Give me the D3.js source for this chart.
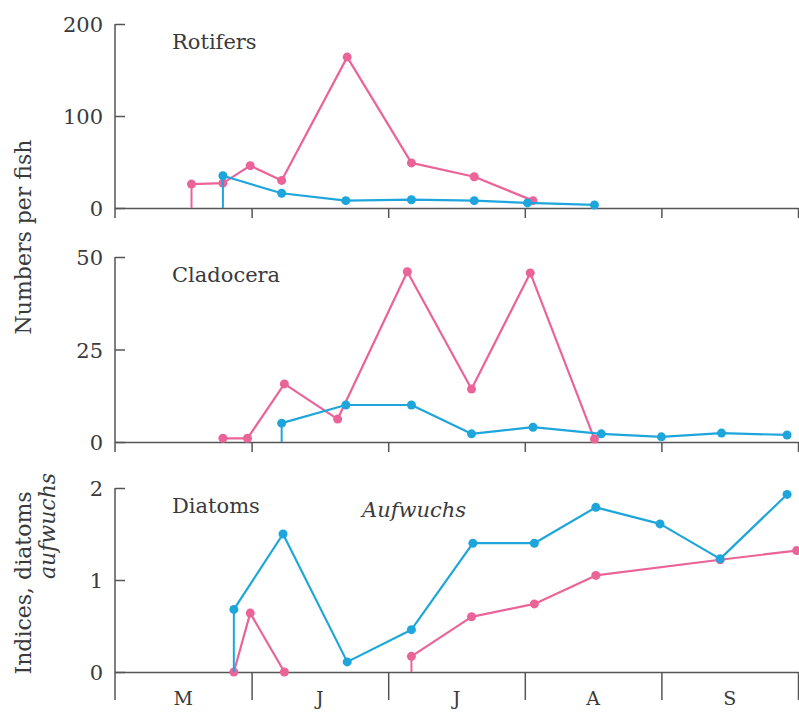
<!DOCTYPE html>
<html>
<head>
<meta charset="utf-8">
<script src="https://cdn.jsdelivr.net/npm/d3@7"></script>
<style>
  html, body { margin: 0; padding: 0; background: #fff; }
  svg { display: block; }
  text { font-family: "DejaVu Serif", serif; fill: #3a3a3a; }
</style>
</head>
<body>
<svg id="chart" width="799" height="712"></svg>
<script>
// Season axis: months after 1 May (0 = 1 May, 5 = 1 October)
const monthLabels = ["M", "J", "J", "A", "S"];
const monthBounds = [0, 1, 2, 3, 4, 5];

// Rotifers, numbers per fish
const rotiferPinkX = [0.56, 0.79, 0.99, 1.22, 1.70, 2.17, 2.63, 3.06];
const rotiferPink  = [26, 27, 46, 30, 164, 49, 34, 8];
const rotiferBlueX = [0.79, 1.22, 1.69, 2.17, 2.63, 3.02, 3.51];
const rotiferBlue  = [35, 16, 8, 9, 8, 5.5, 3.3];

// Cladocera, numbers per fish
const cladoceraPinkX = [0.79, 0.97, 1.24, 1.63, 2.14, 2.61, 3.04, 3.51];
const cladoceraPink  = [1, 1, 15.7, 6.2, 46, 14.3, 45.7, 0.8];
const cladoceraBlueX = [1.22, 1.69, 2.17, 2.61, 3.06, 3.56, 4.00, 4.44, 4.92];
const cladoceraBlue  = [5.1, 10, 10, 2.2, 4, 2.2, 1.4, 2.4, 1.9];

// Diatom indices in aufwuchs
const diatomPinkEarlyX = [0.87, 0.99, 1.24];
const diatomPinkEarly  = [0, 0.64, 0];
const diatomPinkLateX  = [2.17, 2.61, 3.07, 3.52, 4.43, 4.99];
const diatomPinkLate   = [0.17, 0.60, 0.74, 1.05, 1.22, 1.32];
const diatomBlueX = [0.87, 1.23, 1.70, 2.17, 2.62, 3.07, 3.52, 3.99, 4.43, 4.92];
const diatomBlue  = [0.68, 1.5, 0.11, 0.46, 1.40, 1.40, 1.79, 1.61, 1.23, 1.93];

const rotiferTicks = [0, 100, 200];
const cladoceraTicks = [0, 25, 50];
const diatomTicks = [0, 1, 2];

const PINK = "#ea6399";
const BLUE = "#1ea6dc";
const AXIS = "#555";

const svg = d3.select("#chart");
const x = d3.scaleLinear().domain([0, 5]).range([115, 798]);

const zip = (xs, ys) => xs.map((v, i) => ({ x: v, y: ys[i] }));

const panels = [
  { label: "Rotifers", domain: [0, 200], range: [208, 24], ticks: rotiferTicks, drop: 10,
    series: [
      { pts: zip(rotiferPinkX, rotiferPink), color: PINK, stem: true },
      { pts: zip(rotiferBlueX, rotiferBlue), color: BLUE, stem: true }
    ] },
  { label: "Cladocera", domain: [0, 50], range: [442, 257], ticks: cladoceraTicks, drop: 10,
    series: [
      { pts: zip(cladoceraPinkX, cladoceraPink), color: PINK, stem: false },
      { pts: zip(cladoceraBlueX, cladoceraBlue), color: BLUE, stem: true }
    ] },
  { label: "Diatoms", domain: [0, 2], range: [672, 488], ticks: diatomTicks, drop: 28, months: true,
    series: [
      { pts: zip(diatomPinkEarlyX, diatomPinkEarly), color: PINK, stem: false },
      { pts: zip(diatomPinkLateX, diatomPinkLate), color: PINK, stem: true },
      { pts: zip(diatomBlueX, diatomBlue), color: BLUE, stem: true }
    ] }
];

panels.forEach(p => {
  const y = d3.scaleLinear().domain(p.domain).range(p.range);
  const g = svg.append("g");
  const base = y(0);

  // vertical axis line, running a little below the baseline
  g.append("line")
    .attr("x1", x(0)).attr("x2", x(0))
    .attr("y1", y(p.domain[1])).attr("y2", base + p.drop)
    .attr("stroke", AXIS).attr("stroke-width", 1.5);

  // y ticks point inward, labels to the left
  const ya = g.append("g").attr("transform", `translate(${x(0)},0)`)
    .call(d3.axisLeft(y).tickValues(p.ticks).tickFormat(d3.format("d"))
      .tickSize(-10).tickPadding(12));
  ya.select(".domain").remove();
  ya.selectAll(".tick line").attr("stroke", AXIS).attr("stroke-width", 1.5);
  ya.selectAll(".tick text").attr("font-family", "DejaVu Serif").attr("font-size", 21)
    .attr("fill", "#3a3a3a").attr("dy", "0.36em");

  // baseline with month dividers
  const xa = g.append("g").attr("transform", `translate(0,${base})`)
    .call(d3.axisBottom(x).tickValues(monthBounds.slice(1)).tickSize(p.drop).tickSizeOuter(0).tickFormat(""));
  xa.select(".domain").attr("stroke", AXIS).attr("stroke-width", 1.5);
  xa.selectAll(".tick line").attr("stroke", AXIS).attr("stroke-width", 1.5);

  if (p.months) {
    g.selectAll(".month").data(monthLabels).join("text")
      .attr("x", (d, i) => x(i + 0.5))
      .attr("y", 705)
      .attr("text-anchor", "middle")
      .attr("font-size", 19)
      .text(d => d);
  }

  // panel title
  g.append("text").attr("x", 172).attr("y", p.range[1] + 25)
    .attr("font-size", 21).text(p.label);

  const line = d3.line().x(d => x(d.x)).y(d => y(d.y));
  p.series.forEach(s => {
    if (s.stem) {
      g.append("line")
        .attr("x1", x(s.pts[0].x)).attr("x2", x(s.pts[0].x))
        .attr("y1", base).attr("y2", y(s.pts[0].y))
        .attr("stroke", s.color).attr("stroke-width", 2);
    }
    g.append("path").datum(s.pts)
      .attr("d", line).attr("fill", "none")
      .attr("stroke", s.color).attr("stroke-width", 2.2)
      .attr("stroke-linejoin", "round");
    g.selectAll(null).data(s.pts).join("circle")
      .attr("cx", d => x(d.x)).attr("cy", d => y(d.y))
      .attr("r", 4.5).attr("fill", s.color);
  });
});

// italic subtitle for the bottom panel
svg.append("text").attr("x", 362).attr("y", 517)
  .attr("font-size", 21).attr("font-style", "italic").text("Aufwuchs");

// y-axis titles
svg.append("text")
  .attr("transform", "translate(31,237) rotate(-90)")
  .attr("text-anchor", "middle").attr("font-size", 22)
  .text("Numbers per fish");
svg.append("text")
  .attr("transform", "translate(31,583) rotate(-90)")
  .attr("text-anchor", "middle").attr("font-size", 22)
  .text("Indices, diatoms");
svg.append("text")
  .attr("transform", "translate(55,526) rotate(-90)")
  .attr("text-anchor", "middle").attr("font-size", 22).attr("font-style", "italic")
  .text("aufwuchs");
</script>
</body>
</html>
